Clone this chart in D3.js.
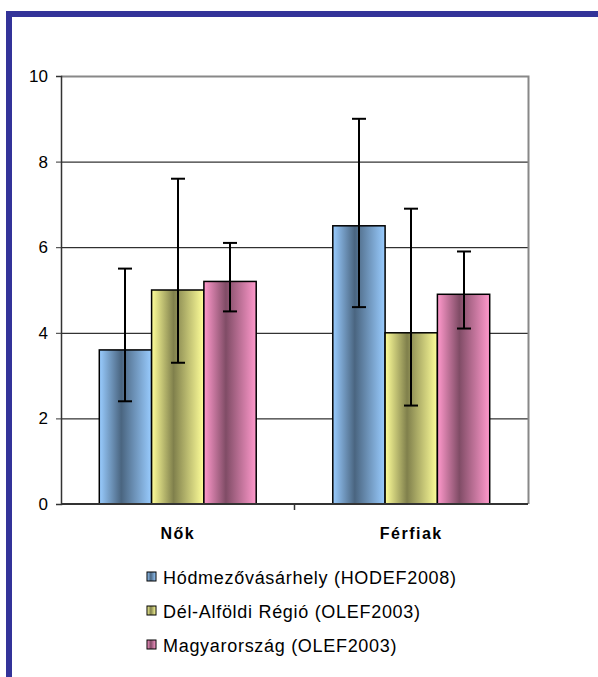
<!DOCTYPE html>
<html><head><meta charset="utf-8">
<script src="https://cdn.jsdelivr.net/npm/d3@7/dist/d3.min.js"></script>
<style>html,body{margin:0;padding:0;background:#fff;}svg{display:block;}</style>
</head><body>
<script>
const categories = ["Nők", "Férfiak"];
const seriesNames = ["Hódmezővásárhely (HODEF2008)", "Dél-Alföldi Régió (OLEF2003)", "Magyarország (OLEF2003)"];
const hodefValues = [3.6, 6.5];
const delAlfoldValues = [5.0, 4.0];
const magyarValues = [5.2, 4.9];
const hodefLow = [2.4, 4.6];
const delAlfoldLow = [3.3, 2.3];
const magyarLow = [4.5, 4.1];
const hodefHigh = [5.5, 9.0];
const delAlfoldHigh = [7.6, 6.9];
const magyarHigh = [6.1, 5.9];
const yTicks = [0, 2, 4, 6, 8, 10];

const seriesValues = [hodefValues, delAlfoldValues, magyarValues];
const seriesLow = [hodefLow, delAlfoldLow, magyarLow];
const seriesHigh = [hodefHigh, delAlfoldHigh, magyarHigh];
const colors = [
  {light: "#99ccff", dark: "#4a6580"},
  {light: "#ffff99", dark: "#80804c"},
  {light: "#ff99cc", dark: "#804c66"}
];

const W = 598, H = 677;
const svg = d3.select("body").append("svg").attr("width", W).attr("height", H);

// frame
svg.append("rect").attr("x", 6).attr("y", 11).attr("width", W - 6).attr("height", 6).attr("fill", "#333399");
svg.append("rect").attr("x", 6).attr("y", 11).attr("width", 6).attr("height", H - 11).attr("fill", "#333399");

const defs = svg.append("defs");
colors.forEach((c, i) => {
  const g = defs.append("linearGradient").attr("id", "g" + i).attr("x1", "0").attr("x2", "1").attr("y1", "0").attr("y2", "0");
  g.append("stop").attr("offset", "0").attr("stop-color", c.light);
  g.append("stop").attr("offset", "0.42").attr("stop-color", c.dark);
  g.append("stop").attr("offset", "1").attr("stop-color", c.light);
});

const pLeft = 61, pRight = 528, pTop = 76, pBottom = 504;
const y = d3.scaleLinear().domain([0, 10]).range([pBottom, pTop]);
const x0 = d3.scaleBand().domain(categories).range([pLeft, pRight]).paddingInner(0.328).paddingOuter(0.164);
const x1 = d3.scaleBand().domain(d3.range(3)).range([0, x0.bandwidth()]);

// gridlines
svg.append("g").selectAll("line").data(yTicks.filter(t => t > 0 && t < 10)).join("line")
  .attr("x1", pLeft).attr("x2", pRight).attr("y1", d => y(d) + 0.5).attr("y2", d => y(d) + 0.5)
  .attr("stroke", "#000").attr("stroke-width", 1);
// plot border top/right
svg.append("path").attr("d", `M${pLeft},${pTop + 0.5}H${pRight + 0.5}V${pBottom}`)
  .attr("fill", "none").attr("stroke", "#888").attr("stroke-width", 2);

// bars
const data = [];
categories.forEach((cat, ci) => {
  seriesValues.forEach((vals, si) => {
    data.push({cat, si, v: vals[ci], lo: seriesLow[si][ci], hi: seriesHigh[si][ci]});
  });
});
svg.append("g").selectAll("rect").data(data).join("rect")
  .attr("x", d => x0(d.cat) + x1(d.si))
  .attr("y", d => y(d.v))
  .attr("width", x1.bandwidth())
  .attr("height", d => y(0) - y(d.v))
  .attr("fill", d => `url(#g${d.si})`)
  .attr("stroke", "#000").attr("stroke-width", 1.5);

// error bars
const eb = svg.append("g").attr("stroke", "#000").attr("stroke-width", 2);
data.forEach(d => {
  const cx = Math.round(x0(d.cat) + x1(d.si) + x1.bandwidth() / 2);
  eb.append("line").attr("x1", cx).attr("x2", cx).attr("y1", y(d.lo)).attr("y2", y(d.hi));
  eb.append("line").attr("x1", cx - 7).attr("x2", cx + 7).attr("y1", y(d.lo)).attr("y2", y(d.lo));
  eb.append("line").attr("x1", cx - 7).attr("x2", cx + 7).attr("y1", y(d.hi)).attr("y2", y(d.hi));
});

// y axis
const yAxis = d3.axisLeft(y).tickValues(yTicks).tickSize(5).tickPadding(8).tickFormat(d3.format("d"));
const gy = svg.append("g").attr("transform", `translate(${pLeft},0)`).call(yAxis);
gy.select(".domain").attr("stroke", "#333").attr("stroke-width", 1.5);
gy.selectAll(".tick line").attr("stroke", "#333");
gy.selectAll("text").attr("font-family", "'Liberation Sans', Arial, sans-serif").attr("font-size", 17).attr("fill", "#000");

// x axis baseline + tick at category boundary
svg.append("line").attr("x1", pLeft).attr("x2", pRight).attr("y1", pBottom).attr("y2", pBottom).attr("stroke", "#333").attr("stroke-width", 2);
const bounds = [pLeft + x0.step()];
svg.append("g").selectAll("line").data(bounds).join("line")
  .attr("x1", d => d).attr("x2", d => d).attr("y1", pBottom).attr("y2", pBottom + 6).attr("stroke", "#333").attr("stroke-width", 1.5);

// category labels
svg.append("g").selectAll("text").data(categories).join("text")
  .attr("x", d => x0(d) + x0.bandwidth() / 2)
  .attr("y", 539)
  .attr("text-anchor", "middle")
  .attr("font-family", "'Liberation Sans', Arial, sans-serif")
  .attr("font-weight", "bold").attr("font-size", 16).attr("letter-spacing", 1.5)
  .text(d => d);

// legend
const lg = svg.append("g").attr("transform", "translate(147,572)");
seriesNames.forEach((n, i) => {
  const row = lg.append("g").attr("transform", `translate(0,${i * 34})`);
  row.append("rect").attr("x", 0).attr("y", 0).attr("width", 9).attr("height", 9)
    .attr("fill", `url(#g${i})`).attr("stroke", "#000").attr("stroke-width", 1);
  row.append("text").attr("x", 16).attr("y", 11.5)
    .attr("font-family", "'Liberation Sans', Arial, sans-serif").attr("font-size", 18).attr("letter-spacing", 0.7)
    .text(n);
});
</script>
</body></html>
